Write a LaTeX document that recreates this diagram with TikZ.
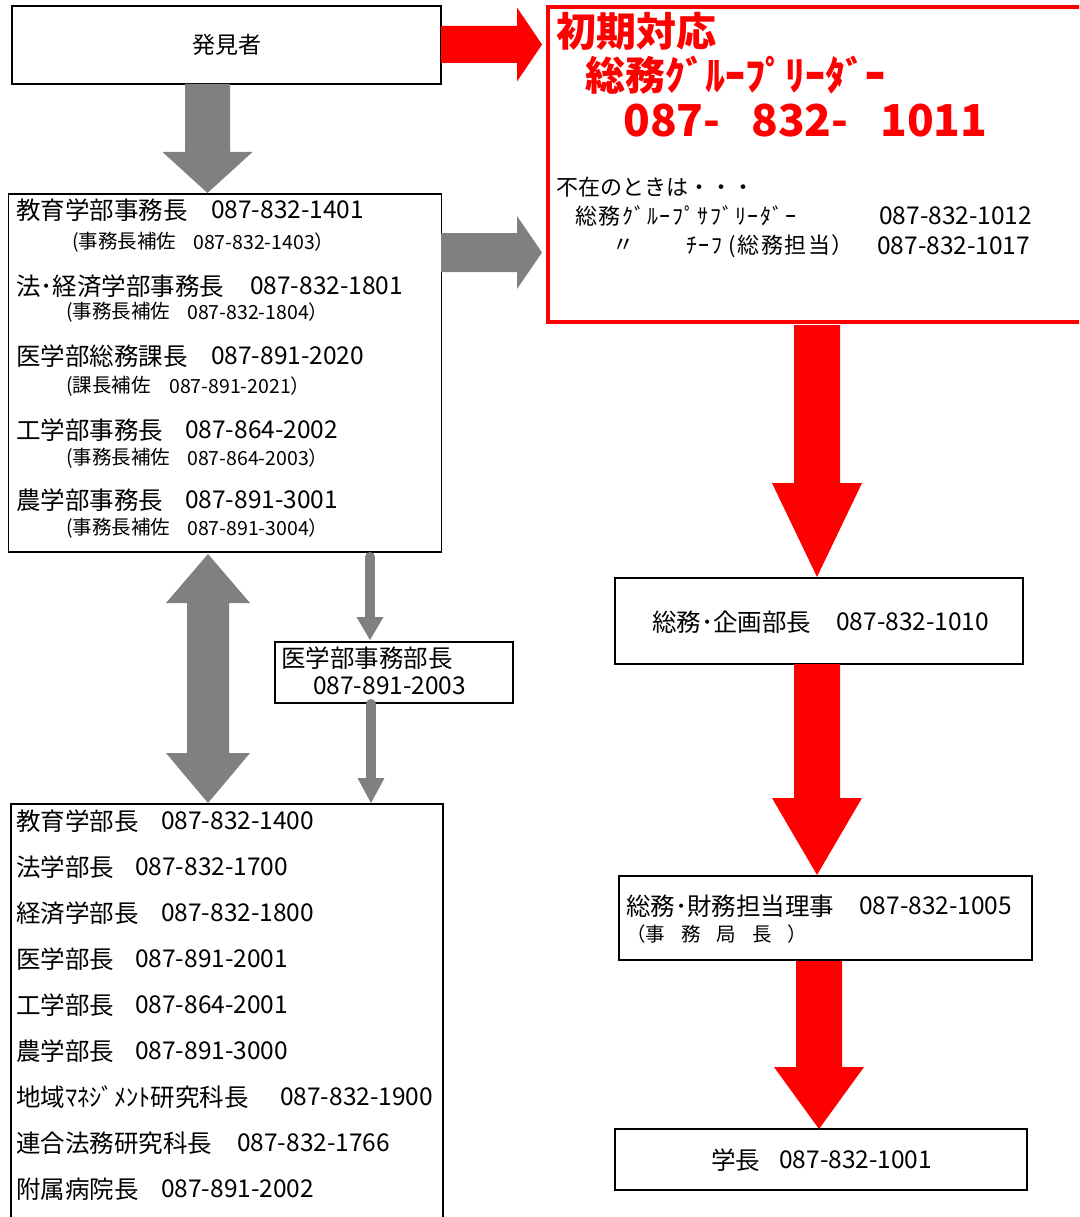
\documentclass[tikz,border=0pt]{standalone}
\usepackage{fontspec}
\setmainfont{Noto Sans CJK JP}
\definecolor{ared}{HTML}{FF0000}
\definecolor{agray}{HTML}{808080}
% vertical block arrow: x centre, y top, y head base, y tip, shaft half width, head half width, colour
\newcommand{\vblk}[7]{\fill[#7] (#1-#5,#2) -- (#1+#5,#2) -- (#1+#5,#3) -- (#1+#6,#3) -- (#1,#4) -- (#1-#6,#3) -- (#1-#5,#3) -- cycle;}
% horizontal block arrow: y centre, x start, x head base, x tip, shaft half, head half, colour
\newcommand{\hblk}[7]{\fill[#7] (#2,#1-#5) -- (#3,#1-#5) -- (#3,#1-#6) -- (#4,#1) -- (#3,#1+#6) -- (#3,#1+#5) -- (#2,#1+#5) -- cycle;}
\begin{document}
\begin{tikzpicture}[x=1pt,y=-1pt,
  box/.style={draw=black, line width=1.3pt, fill=white, inner sep=0},
  txt/.style={anchor=west, inner sep=0, font=\fontsize{24.5}{24.5}\selectfont},
  sub/.style={anchor=west, inner sep=0, font=\fontsize{19.5}{19.5}\selectfont},
  kana/.style={anchor=west, inner sep=0, font=\fontsize{22}{22}\selectfont\addfontfeature{LetterSpace=7}},
  redbig/.style={anchor=west, inner sep=0, text=ared, font=\bfseries\fontsize{40}{40}\selectfont},
  rednum/.style={anchor=west, inner sep=0, text=ared, font=\bfseries\fontsize{44}{44}\selectfont},
  mid/.style={anchor=west, inner sep=0, font=\fontsize{22}{22}\selectfont},
 ]
\useasboundingbox (0,0) rectangle (1079,1217);
\clip (0,0) rectangle (1079,1217);
\fill[white] (0,0) rectangle (1079,1217);

% ---------- boxes ----------
\node[box, minimum width=429pt, minimum height=78pt] (finder) at (226.5,45) {};
\node[box, minimum width=433pt, minimum height=358pt] (deans) at (225,373) {};
\node[box, minimum width=238pt, minimum height=61pt] (medoff) at (394,672.5) {};
\node[box, minimum width=432pt, minimum height=430pt] (heads) at (227,1019) {};
\node[draw=ared, line width=4.5pt, fill=white, inner sep=0, minimum width=562pt, minimum height=315pt] (initial) at (829,164.5) {};
\node[box, minimum width=408pt, minimum height=86pt] (planning) at (819,621) {};
\node[box, minimum width=413pt, minimum height=84pt] (director) at (825.5,918) {};
\node[box, minimum width=412pt, minimum height=61pt] (president) at (821,1159.5) {};

% ---------- arrows ----------
\vblk{207.5}{84}{152}{193}{22.5}{45}{agray}
\hblk{44.5}{441}{517}{542}{18.5}{37}{ared}
\hblk{252.5}{441}{517}{542}{19.5}{36.5}{agray}
% double arrow
\fill[agray] (208,554) -- (250,603) -- (229,603) -- (229,753) -- (250,753) -- (208,803) -- (166,753) -- (187,753) -- (187,603) -- (166,603) -- cycle;
% thin arrows
\draw[agray, line width=10pt, line cap=round] (370,557) -- (370,620);
\fill[agray] (356.5,617) -- (383.5,617) -- (370,640) -- cycle;
\draw[agray, line width=10pt, line cap=round] (371,704) -- (371,781);
\fill[agray] (357.5,778) -- (384.5,778) -- (371,803) -- cycle;
% red downward arrows
\vblk{817}{325}{483}{577}{23}{45}{ared}
\vblk{817}{664}{798}{875}{23}{45}{ared}
\vblk{819}{961}{1067}{1129}{23}{45}{ared}

% ---------- texts ----------
\node[inner sep=0, font=\fontsize{23}{23}\selectfont] (t-finder) at (finder.center) {発見者};

\node[txt] (d1) at (16,210) {教育学部事務長};
\node[txt] (d1p) at (211,210) {087-832-1401};
\node[sub] (d1s) at (72,242) {(事務長補佐};
\node[sub] (d1sp) at (193,242) {087-832-1403）};
\node[txt] (d2) at (16,286) {法･経済学部事務長};
\node[txt] (d2p) at (250,286) {087-832-1801};
\node[sub] (d2s) at (66,312) {(事務長補佐};
\node[sub] (d2sp) at (187,312) {087-832-1804）};
\node[txt] (d3) at (16,356) {医学部総務課長};
\node[txt] (d3p) at (211,356) {087-891-2020};
\node[sub] (d3s) at (66,386) {(課長補佐};
\node[sub] (d3sp) at (169,386) {087-891-2021）};
\node[txt] (d4) at (16,430) {工学部事務長};
\node[txt] (d4p) at (185,430) {087-864-2002};
\node[sub] (d4s) at (66,458) {(事務長補佐};
\node[sub] (d4sp) at (187,458) {087-864-2003）};
\node[txt] (d5) at (16,500) {農学部事務長};
\node[txt] (d5p) at (185,500) {087-891-3001};
\node[sub] (d5s) at (66,528) {(事務長補佐};
\node[sub] (d5sp) at (187,528) {087-891-3004）};

\node[txt] (m1) at (281,658) {医学部事務部長};
\node[txt] (m1p) at (313,686) {087-891-2003};

\node[txt] (h1) at (16,821) {教育学部長};
\node[txt] (h1p) at (161,821) {087-832-1400};
\node[txt] (h2) at (16,867) {法学部長};
\node[txt] (h2p) at (135,867) {087-832-1700};
\node[txt] (h3) at (16,913) {経済学部長};
\node[txt] (h3p) at (161,913) {087-832-1800};
\node[txt] (h4) at (16,959) {医学部長};
\node[txt] (h4p) at (135,959) {087-891-2001};
\node[txt] (h5) at (16,1005) {工学部長};
\node[txt] (h5p) at (135,1005) {087-864-2001};
\node[txt] (h6) at (16,1051) {農学部長};
\node[txt] (h6p) at (135,1051) {087-891-3000};
\node[txt] (h7) at (16,1097) {地域ﾏﾈｼﾞﾒﾝﾄ研究科長};
\node[txt] (h7p) at (280,1097) {087-832-1900};
\node[txt] (h8) at (16,1143) {連合法務研究科長};
\node[txt] (h8p) at (237,1143) {087-832-1766};
\node[txt] (h9) at (16,1189) {附属病院長};
\node[txt] (h9p) at (161,1189) {087-891-2002};

\node[redbig] (r1) at (556,31) {初期対応};
\node[redbig] (r2) at (585,75) {総務ｸﾞﾙｰﾌﾟﾘｰﾀﾞｰ};
\node[rednum] (r3a) at (623,121) {087-};
\node[rednum] (r3b) at (751,121) {832-};
\node[rednum] (r3c) at (880,121) {1011};
\node[mid] (a0) at (556,187) {不在のときは・・・};
\node[kana] (a1) at (575,216) {総務ｸﾞﾙｰﾌﾟｻﾌﾞﾘｰﾀﾞｰ};
\node[txt] (a1p) at (879,216) {087-832-1012};
\node[kana] (a2q) at (612,246) {〃};
\node[kana] (a2) at (686,246) {ﾁｰﾌ (総務担当）};
\node[txt] (a2p) at (877,246) {087-832-1017};

\node[txt] (p1) at (652,622) {総務･企画部長};
\node[txt] (p1p) at (836,622) {087-832-1010};
\node[txt] (e1) at (626,906) {総務･財務担当理事};
\node[txt] (e1p) at (859,906) {087-832-1005};
\node[sub] (e2) at (626,934) {（事\hspace{16pt}務\hspace{16pt}局\hspace{16pt}長\hspace{16pt}）};
\node[txt] (g1) at (711,1160) {学長};
\node[txt] (g1p) at (779,1160) {087-832-1001};
\end{tikzpicture}
\end{document}
